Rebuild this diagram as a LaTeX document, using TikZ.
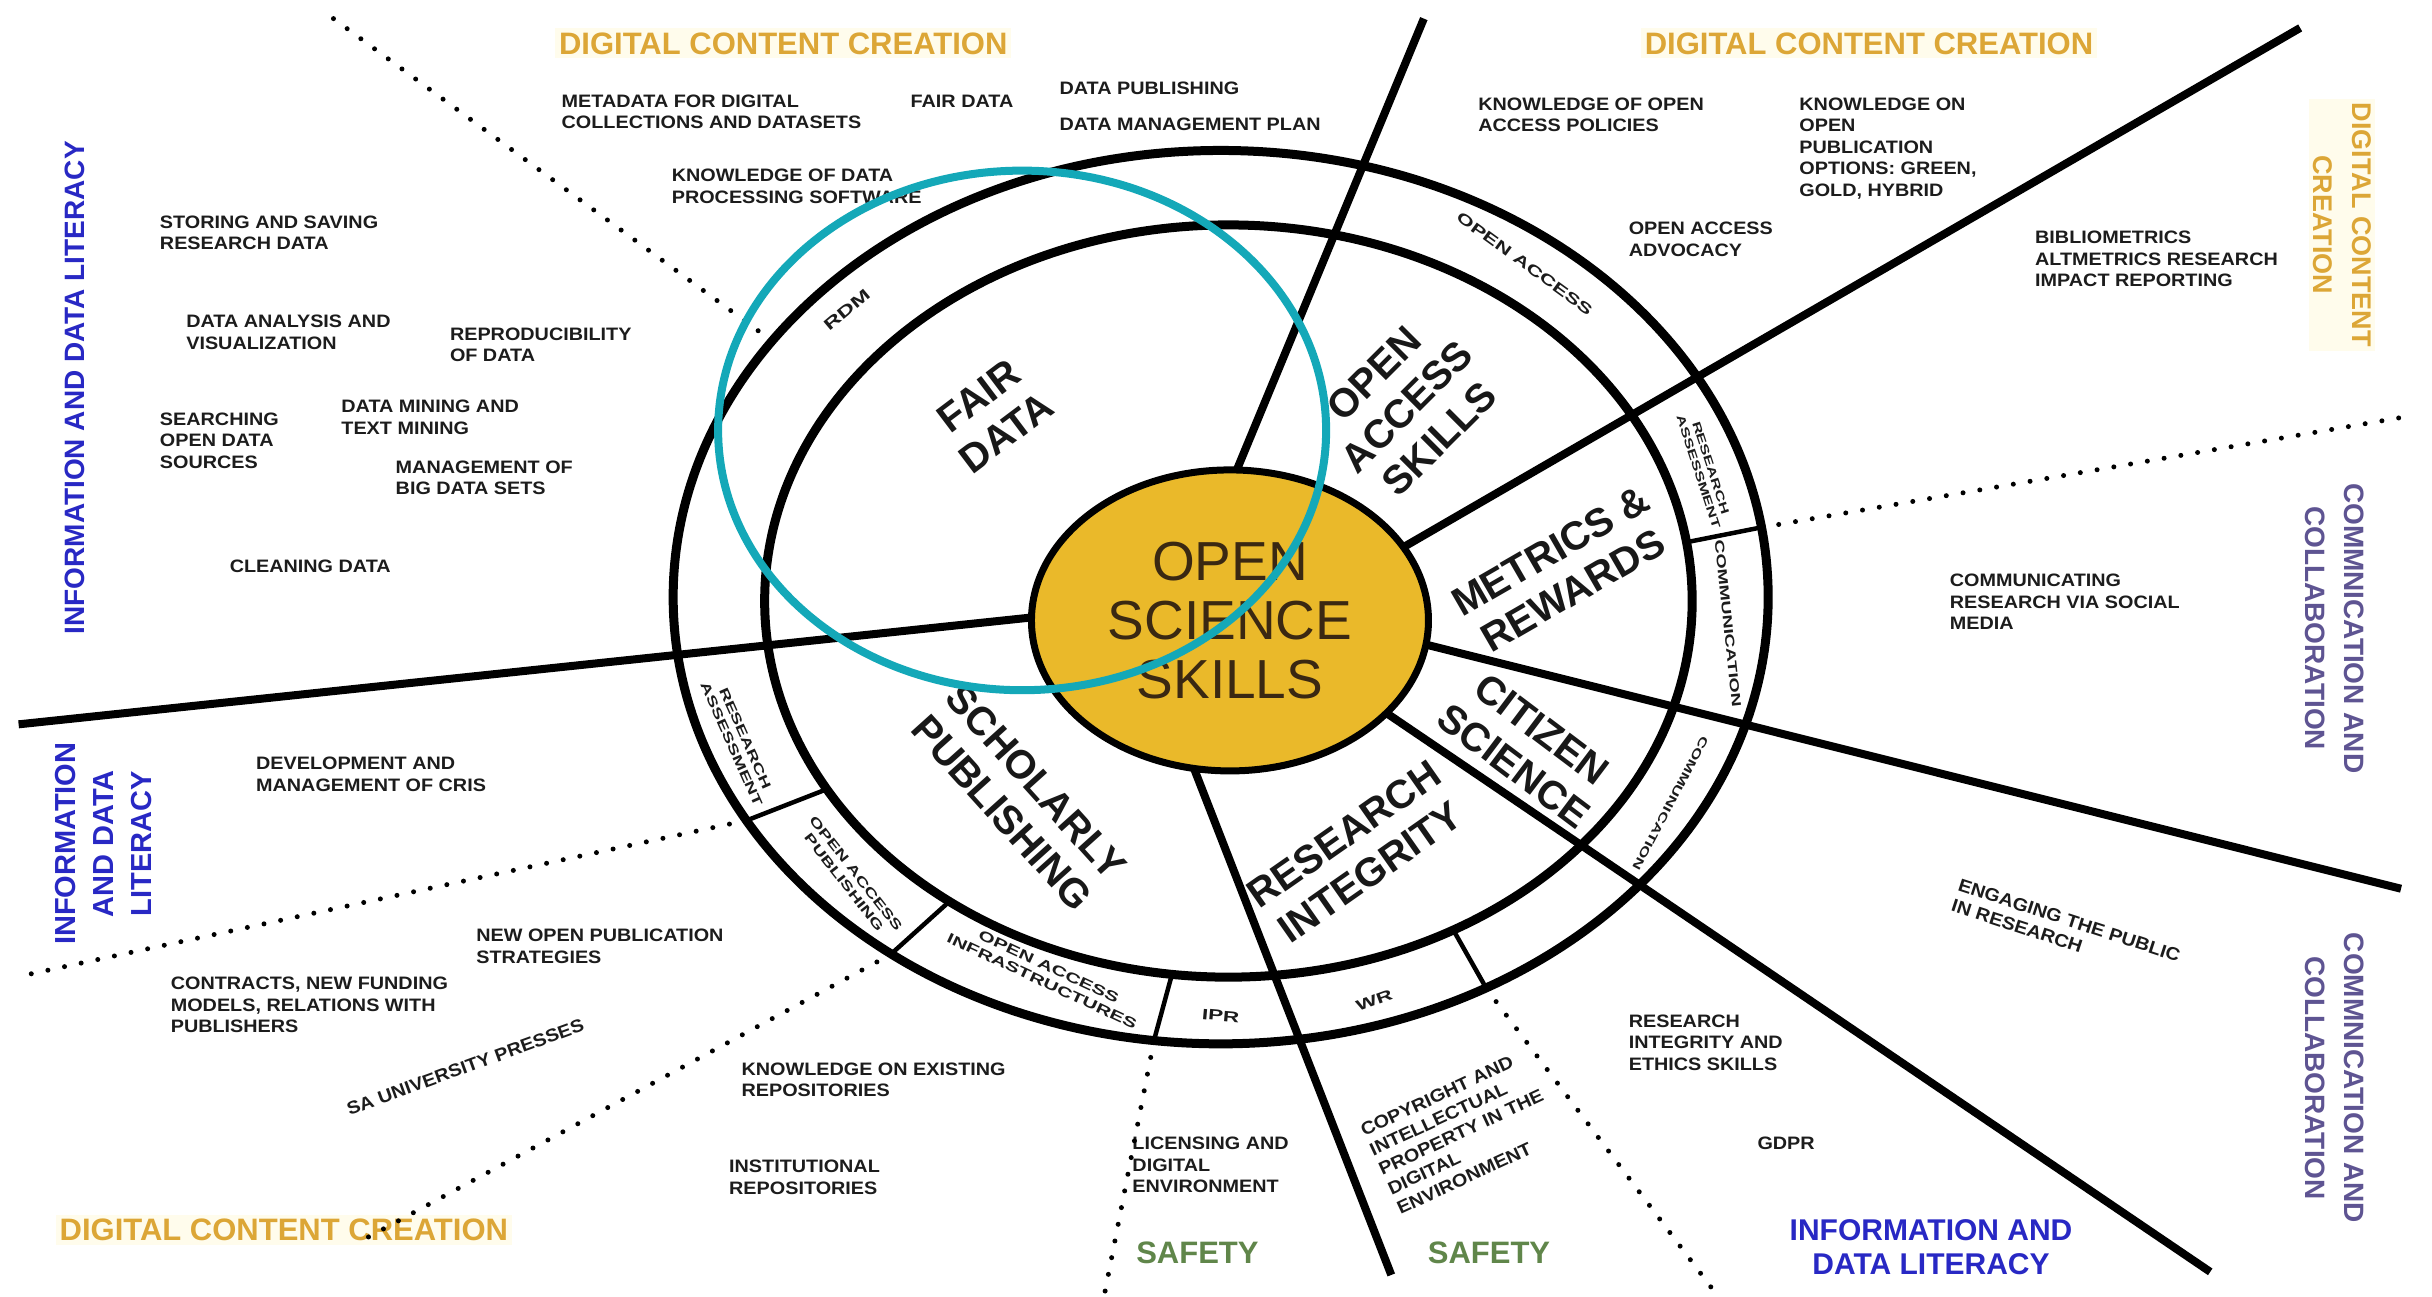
\documentclass[tikz,border=0pt]{standalone}
\usepackage{fontspec}
\setmainfont{Liberation Sans}
\newfontfamily\annfont{Liberation Sans}[FakeStretch=1.1]
\newfontfamily\bandfont{Liberation Sans}[FakeStretch=1.5]
\usetikzlibrary{shapes.geometric}
\definecolor{ossyellow}{RGB}{234,185,42}
\definecolor{ossbrown}{RGB}{58,40,18}
\definecolor{hilite}{RGB}{20,168,184}
\definecolor{goldtxt}{RGB}{220,166,54}
\definecolor{goldbg}{RGB}{255,252,236}
\definecolor{bluetxt}{RGB}{40,40,196}
\definecolor{purptxt}{RGB}{94,84,146}
\definecolor{greentxt}{RGB}{96,134,74}
\definecolor{inktxt}{RGB}{28,28,28}
\begin{document}
\begin{tikzpicture}[x=1.551pt,y=-1.551pt,
  annot/.style={inner sep=0pt,anchor=north west,align=left,text=inktxt,
    font=\annfont\fontsize{18}{21.5}\selectfont\bfseries},
  bandtxt/.style={inner sep=0pt,align=center,text=inktxt,
    font=\bandfont\fontsize{13}{15}\selectfont\bfseries},
  segtxt/.style={inner sep=0pt,align=center,text=inktxt!85!black,
    font=\fontsize{40}{46}\selectfont\bfseries},
  goldtitle/.style={inner sep=4pt,align=center,fill=goldbg,text=goldtxt,
    font=\fontsize{31}{38}\selectfont\bfseries},
  bluetitle/.style={inner sep=0pt,align=center,text=bluetxt,
    font=\fontsize{29}{38}\selectfont\bfseries},
  purptitle/.style={inner sep=0pt,align=center,text=purptxt,
    font=\fontsize{28}{39}\selectfont\bfseries},
  greentitle/.style={inner sep=0pt,text=greentxt,
    font=\fontsize{31}{36}\selectfont\bfseries},
  spoke/.style={line width=8pt},
  ring/.style={line width=9pt},
  divider/.style={line width=4.5pt},
  dotline/.style={line width=5pt,line cap=round,dash pattern=on 0pt off 17pt},
]
\useasboundingbox (0,0) rectangle (1568,836);
\fill[white] (0,0) rectangle (1568,836);

% ---------- titles ----------
\node[goldtitle] (dccTL) at (505,28) {DIGITAL CONTENT CREATION};
\node[goldtitle] (dccTR) at (1205,28) {DIGITAL CONTENT CREATION};
\node[goldtitle] (dccBL) at (183,793) {DIGITAL CONTENT CREATION};
\node[goldtitle,font=\fontsize{27}{39}\selectfont\bfseries,rotate=-90] (dccR) at (1510,145) {DIGITAL CONTENT\\CREATION};
\node[purptitle,rotate=-90] (ccR1) at (1505,405) {COMMNICATION AND\\COLLABORATION};
\node[purptitle,rotate=-90] (ccR2) at (1505,695) {COMMNICATION AND\\COLLABORATION};
\node[bluetitle,font=\fontsize{28}{38}\selectfont\bfseries,rotate=90] (idlL1) at (48,250) {INFORMATION AND DATA LITERACY};
\node[bluetitle,rotate=90] (idlL2) at (67,544) {INFORMATION\\AND DATA\\LITERACY};
\node[bluetitle,font=\fontsize{30}{34}\selectfont\bfseries] (idlB) at (1245,804) {INFORMATION AND\\DATA LITERACY};
\node[greentitle] (saf1) at (772,808) {SAFETY};
\node[greentitle] (saf2) at (960,808) {SAFETY};

% ---------- annotations ----------
\node[annot] (a1) at (362,61) {METADATA FOR DIGITAL\\COLLECTIONS AND DATASETS};
\node[annot] (a2) at (587,61) {FAIR DATA};
\node[annot] (a3) at (683,53) {DATA PUBLISHING};
\node[annot] (a4) at (683,76) {DATA MANAGEMENT PLAN};
\node[annot] (a5) at (433,109) {KNOWLEDGE OF DATA\\PROCESSING SOFTWARE};
\node[annot] (a6) at (953,63) {KNOWLEDGE OF OPEN\\ACCESS POLICIES};
\node[annot] (a7) at (1160,63) {KNOWLEDGE ON\\OPEN\\PUBLICATION\\OPTIONS: GREEN,\\GOLD, HYBRID};
\node[annot] (a8) at (1050,143) {OPEN ACCESS\\ADVOCACY};
\node[annot] (a9) at (1312,149) {BIBLIOMETRICS\\ALTMETRICS RESEARCH\\IMPACT REPORTING};
\node[annot] (a10) at (103,139) {STORING AND SAVING\\RESEARCH DATA};
\node[annot] (a11) at (120,203) {DATA ANALYSIS AND\\VISUALIZATION};
\node[annot] (a12) at (290,211) {REPRODUCIBILITY\\OF DATA};
\node[annot] (a13) at (103,266) {SEARCHING\\OPEN DATA\\SOURCES};
\node[annot] (a14) at (220,258) {DATA MINING AND\\TEXT MINING};
\node[annot] (a15) at (255,297) {MANAGEMENT OF\\BIG DATA SETS};
\node[annot] (a16) at (148,361) {CLEANING DATA};
\node[annot] (a17) at (1257,370) {COMMUNICATING\\RESEARCH VIA SOCIAL\\MEDIA};
\node[annot] (a18) at (165,488) {DEVELOPMENT AND\\MANAGEMENT OF CRIS};
\node[annot] (a19) at (307,599) {NEW OPEN PUBLICATION\\STRATEGIES};
\node[annot] (a20) at (110,630) {CONTRACTS, NEW FUNDING\\MODELS, RELATIONS WITH\\PUBLISHERS};
\node[annot,anchor=center,rotate=20] (a21) at (300,688) {SA UNIVERSITY PRESSES};
\node[annot] (a22) at (478,685) {KNOWLEDGE ON EXISTING\\REPOSITORIES};
\node[annot] (a23) at (470,748) {INSTITUTIONAL\\REPOSITORIES};
\node[annot] (a24) at (730,733) {LICENSING AND\\DIGITAL\\ENVIRONMENT};
\node[annot,anchor=center,rotate=25] (a25) at (942,730) {COPYRIGHT AND\\INTELLECTUAL\\PROPERTY IN THE\\DIGITAL\\ENVIRONMENT};
\node[annot] (a26) at (1050,654) {RESEARCH\\INTEGRITY AND\\ETHICS SKILLS};
\node[annot] (a27) at (1133,733) {GDPR};
\node[annot,anchor=center,rotate=-18] (a28) at (1332,600) {ENGAGING THE PUBLIC\\IN RESEARCH};

% ---------- dotted lines ----------
\coordinate (d1a) at (215,12);   \coordinate (d1b) at (498,220);
\coordinate (d2a) at (1136,340); \coordinate (d2b) at (1555,268);
\coordinate (d3a) at (481,529);  \coordinate (d3b) at (10,630);
\coordinate (d4a) at (575,615);  \coordinate (d4b) at (233,800);
\coordinate (d5a) at (744,671);  \coordinate (d5b) at (712,835);
\coordinate (d6a) at (958,637);  \coordinate (d6b) at (1107,835);
\draw[dotline] (d1a) -- (d1b);
\draw[dotline] (d2a) -- (d2b);
\draw[dotline] (d3a) -- (d3b);
\draw[dotline] (d4a) -- (d4b);
\draw[dotline] (d5a) -- (d5b);
\draw[dotline] (d6a) -- (d6b);

% ---------- rings ----------
\draw[ring] (787,385) ellipse [x radius=353, y radius=288];
\draw[ring] (792,387.5) ellipse [x radius=299, y radius=242.5];

% ---------- dividers in the outer band ----------
\draw[divider] (1087.3,349.6) -- (1135.7,340.0);
\draw[divider] (937.0,599.6) -- (958.1,636.9);
\draw[divider] (755.6,628.2) -- (744.0,670.8);
\draw[divider] (612.1,581.2) -- (574.6,615.0);
\draw[divider] (533.1,508.8) -- (481.3,529.0);

% ---------- spokes ----------
\coordinate (s1) at (792,316);  \coordinate (e1) at (918,12);
\coordinate (s2) at (901,355);  \coordinate (e2) at (1483,18);
\coordinate (s3) at (909,413);  \coordinate (e3) at (1548,573);
\coordinate (s4) at (881,451);  \coordinate (e4) at (1425,820);
\coordinate (s5) at (763,478);  \coordinate (e5) at (897,822);
\coordinate (s6) at (685,396);  \coordinate (e6) at (12,467);
\draw[spoke] (s1) -- (e1);
\draw[spoke] (s2) -- (e2);
\draw[spoke] (s3) -- (e3);
\draw[spoke] (s4) -- (e4);
\draw[spoke] (s5) -- (e5);
\draw[spoke] (s6) -- (e6);

% ---------- core ----------
\node[ellipse,draw,line width=7pt,fill=ossyellow,minimum width=397pt,minimum height=301pt,
  inner sep=0pt,text=ossbrown,align=center,font=\fontsize{55}{59}\selectfont] (core) at (793,400) {OPEN\\SCIENCE\\SKILLS};

% ---------- segment labels ----------
\node[segtxt,rotate=37] (fair) at (640,267) {FAIR\\DATA};
\node[segtxt,rotate=45] (oas) at (907,262) {OPEN\\ACCESS\\SKILLS};
\node[segtxt,rotate=30] (metrics) at (1007,368) {METRICS \&\\REWARDS};
\node[segtxt,rotate=-37] (citizen) at (985,482) {CITIZEN\\SCIENCE};
\node[segtxt,rotate=35] (integrity) at (875,550) {RESEARCH\\INTEGRITY};
\node[segtxt,rotate=-48] (scholarly) at (657,514) {SCHOLARLY\\PUBLISHING};

% ---------- band labels ----------
\node[bandtxt,rotate=40,font=\bandfont\fontsize{16}{18}\selectfont\bfseries] (rdm) at (546,200) {RDM};
\node[bandtxt,rotate=-36,font=\bandfont\fontsize{15}{17}\selectfont\bfseries] (oa) at (983,170) {OPEN ACCESS};
\node[bandtxt,rotate=-72,font=\bandfont\fontsize{11.5}{13}\selectfont\bfseries] (ra1) at (1099,303) {RESEARCH\\ASSESSMENT};
\node[bandtxt,rotate=-84] (comm1) at (1114,402) {COMMUNICATION};
\node[bandtxt,rotate=-118,font=\bandfont\fontsize{11.5}{13}\selectfont\bfseries] (comm2) at (1077,518) {COMMUNICATION};
\node[bandtxt,rotate=-66] (ra2) at (476,478) {RESEARCH\\ASSESSMENT};
\node[bandtxt,rotate=-52] (oap) at (548,566) {OPEN ACCESS\\PUBLISHING};
\node[bandtxt,rotate=-25,font=\bandfont\fontsize{14}{16}\selectfont\bfseries] (oai) at (674,628) {OPEN ACCESS\\INFRASTRUCTURES};
\node[bandtxt,rotate=-5,font=\bandfont\fontsize{15}{17}\selectfont\bfseries] (ipr) at (787,655) {IPR};
\node[bandtxt,rotate=20,font=\bandfont\fontsize{15}{17}\selectfont\bfseries] (wr) at (886,645) {WR};

% ---------- highlight ----------
\draw[hilite,line width=8pt] (659,277.5) ellipse [x radius=196, y radius=167.5];
\end{tikzpicture}
\end{document}
